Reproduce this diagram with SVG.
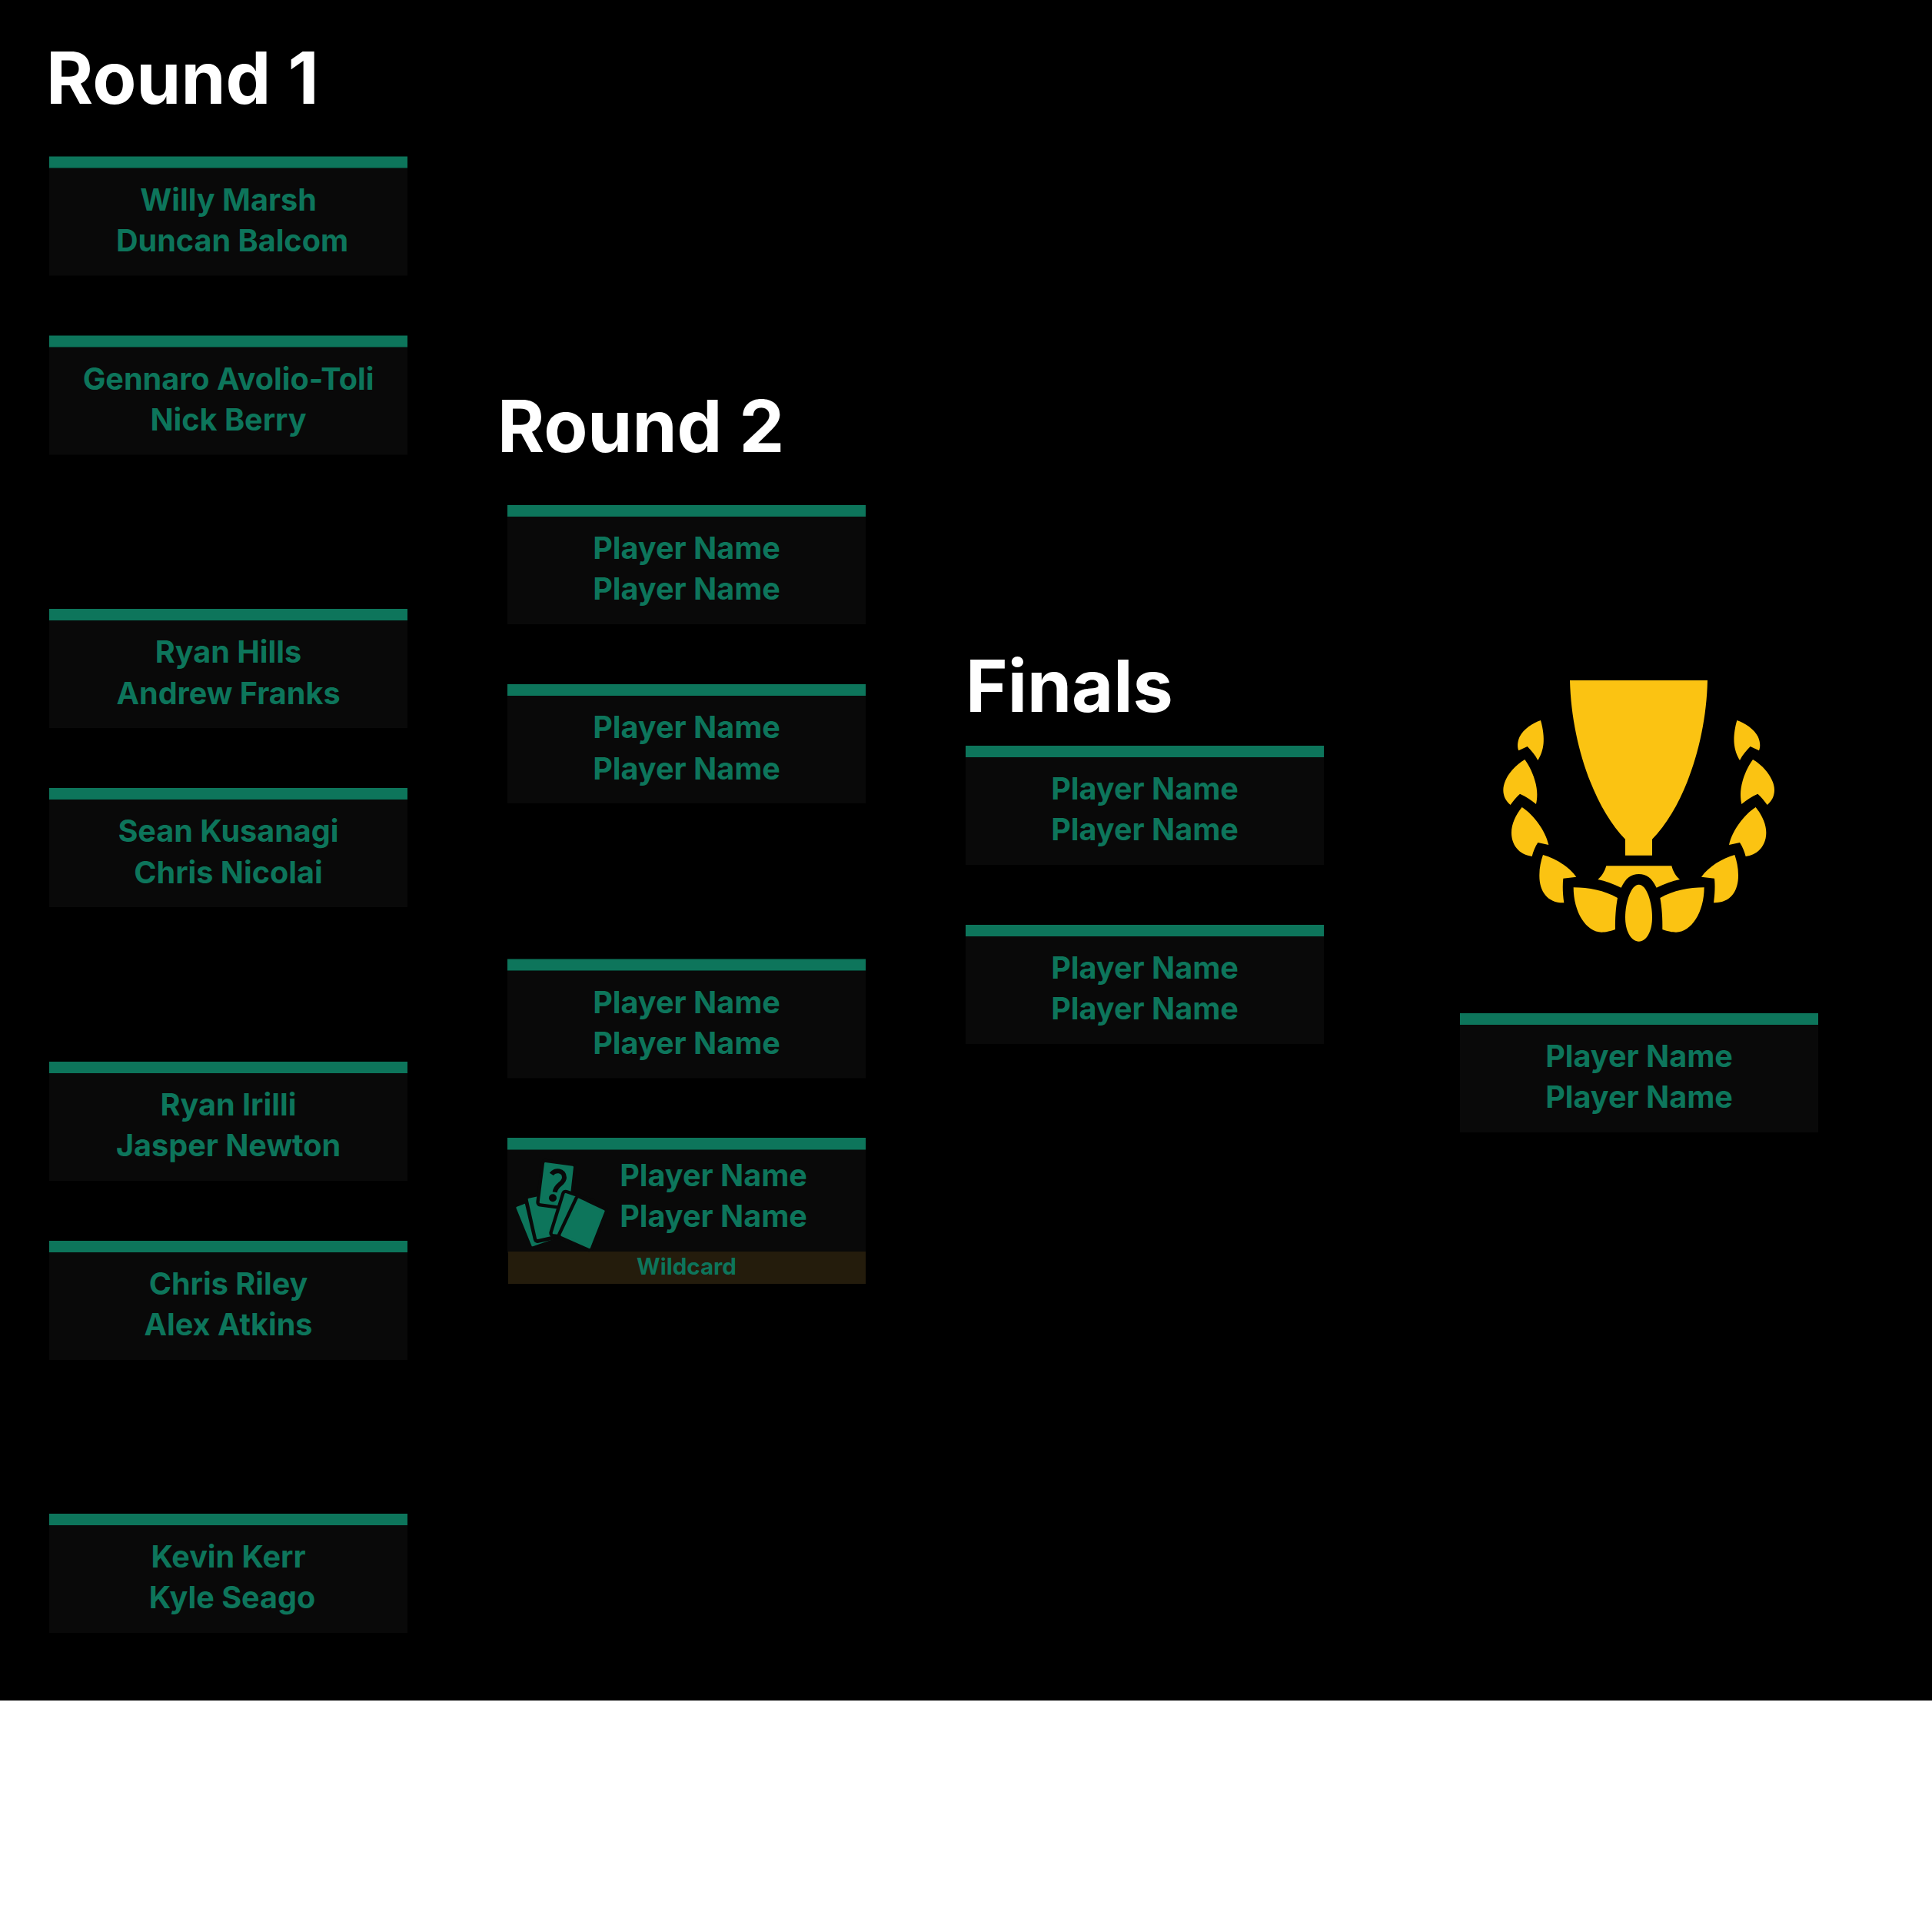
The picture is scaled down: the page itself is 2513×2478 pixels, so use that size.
<svg xmlns="http://www.w3.org/2000/svg" width="2513" height="2478" viewBox="0 0 2513 2478">
<style>
.body{fill:#090909}.bar{fill:#0d755b}.band{fill:#241c0c}
.name{font-family:Inter,"Noto Sans",sans-serif;font-weight:700;font-size:39.600px;fill:#0d755b;text-anchor:middle}
.title{font-family:Inter,"Noto Sans",sans-serif;font-weight:700;font-size:93.300px;fill:#fff}
.wild{font-family:Inter,"Noto Sans",sans-serif;font-weight:700;font-size:29.500px;fill:#0d755b;text-anchor:middle}
.gold{fill:#fbc312}
.card{fill:#0d755b;stroke:#0d755b;stroke-width:8;stroke-linejoin:round}
.gap{fill:#090909;stroke:#090909;stroke-width:34;stroke-linejoin:round}
</style>
<defs>
<g id="box"><rect class="body" x="0" y="15" width="466" height="140"/><rect class="bar" x="0" y="0" width="466" height="15"/></g>
<g id="leaves">
<path d="M500 913C560 913 620 925 672 954C665 990 662 1035 663 1077C640 1085 625 1088 610 1088C550 1088 500 1010 500 913Z"/>
<path d="M381 786C430 800 480 830 511 872L460 878C457 905 458 940 463 973C400 975 366 930 367 865C367 835 373 810 381 786Z"/>
<path d="M299 600C345 630 390 690 403 747L361 738C350 755 343 772 338 792C285 785 258 745 258 700C258 665 275 630 299 600Z"/>
<path d="M310 414C340 455 358 510 358 550C358 565 357 575 354 588C335 572 315 558 291 548C277 560 265 575 254 591C235 575 226 555 226 533C226 490 265 440 310 414Z"/>
<path d="M372 261C382 295 385 330 383 350C381 375 372 400 361 417C350 395 335 378 320 363L286 379C280 365 281 345 290 325C305 295 340 272 372 261Z"/>
</g>
</defs>
<rect x="0" y="0" width="2513" height="2478" fill="#fff"/>
<rect x="0" y="0" width="2513" height="2212" fill="#000"/>
<g id="titles">
<text class="title" x="60" y="134.500">Round 1</text>
<text class="title" x="647" y="587.500">Round 2</text>
<text class="title" x="1256" y="925.500">Finals</text>
</g>
<g id="round-1">
<g id="r1-m1" transform="translate(64 203.500)"><use href="#box"/><text class="name" x="233" y="70">Willy Marsh</text><text class="name" x="238" y="123">Duncan Balcom</text></g>
<g id="r1-m2" transform="translate(64 436.500)"><use href="#box"/><text class="name" x="233" y="70">Gennaro Avolio-Toli</text><text class="name" x="233" y="123">Nick Berry</text></g>
<g id="r1-m3" transform="translate(64 792)"><use href="#box"/><text class="name" x="233" y="70">Ryan Hills</text><text class="name" x="233" y="123.500">Andrew Franks</text></g>
<g id="r1-m4" transform="translate(64 1025)"><use href="#box"/><text class="name" x="233" y="70">Sean Kusanagi</text><text class="name" x="233" y="123.500">Chris Nicolai</text></g>
<g id="r1-m5" transform="translate(64 1381)"><use href="#box"/><text class="name" x="233" y="70">Ryan Irilli</text><text class="name" x="233" y="123">Jasper Newton</text></g>
<g id="r1-m6" transform="translate(64 1614)"><use href="#box"/><text class="name" x="233" y="70">Chris Riley</text><text class="name" x="233" y="123">Alex Atkins</text></g>
<g id="r1-m7" transform="translate(64 1969)"><use href="#box"/><text class="name" x="233" y="70">Kevin Kerr</text><text class="name" x="238" y="123">Kyle Seago</text></g>
</g>
<g id="round-2">
<g id="r2-m1" transform="translate(660 657)"><use href="#box"/><text class="name" x="233" y="70">Player Name</text><text class="name" x="233" y="123">Player Name</text></g>
<g id="r2-m2" transform="translate(660 890)"><use href="#box"/><text class="name" x="233" y="70">Player Name</text><text class="name" x="233" y="123.500">Player Name</text></g>
<g id="r2-m3" transform="translate(660 1247.500)"><use href="#box"/><text class="name" x="233" y="70">Player Name</text><text class="name" x="233" y="123">Player Name</text></g>
<g id="r2-m4" transform="translate(660 1480)"><rect class="body" x="0" y="15" width="466" height="135"/><rect class="band" x="1" y="148" width="465" height="42"/><rect class="bar" x="0" y="0" width="466" height="15.500"/>
<text class="name" x="268" y="63">Player Name</text><text class="name" x="268" y="116">Player Name</text><text class="wild" x="233" y="178">Wildcard</text>
<g id="wildcard-icon" transform="translate(0 10) scale(.33333)">
<polygon class="card" points="38,243 150,200 212,350 98,390"/>
<polygon class="gap" points="82,210 195,185 228,340 118,364"/>
<polygon class="card" points="84,210 190,188 224,338 118,362"/>
<polygon class="gap" points="148,70 254,84 237,236 129,222"/>
<polygon class="card" points="148,70 254,84 237,236 129,222"/>
<path d="M172 112C185 92 222 96 222 125C222 150 190 150 185 182" fill="none" stroke="#090909" stroke-width="18"/>
<circle cx="177" cy="205" r="15" fill="#090909"/>
<polygon class="gap" points="227,190 330,225 280,350 180,342"/>
<polygon class="card" points="227,190 330,225 280,350 180,342"/>
<polygon class="gap" points="278,210 376,256 320,398 212,350"/>
<polygon class="card" points="278,210 376,256 320,398 212,350"/>
</g></g>
</g>
<g id="finals">
<g id="f-m1" transform="translate(1256 970)"><use href="#box"/><text class="name" x="233" y="70">Player Name</text><text class="name" x="233" y="123">Player Name</text></g>
<g id="f-m2" transform="translate(1256 1203)"><use href="#box"/><text class="name" x="233" y="70">Player Name</text><text class="name" x="233" y="123">Player Name</text></g>
</g>
<g id="winner" transform="translate(1899 1318)"><use href="#box"/><text class="name" x="233" y="70">Player Name</text><text class="name" x="233" y="123">Player Name</text></g>
<g id="trophy" class="gold" transform="translate(1880 850) scale(.33333)">
<path d="M486 105H1023C1018 350 930 600 807 725V788H702V725C580 600 492 350 486 105Z"/>
<path d="M628 829H883C888 850 900 870 915 882C885 888 855 900 824 914C805 875 785 861 755 861C725 861 705 875 686 914C655 900 625 888 595 882C610 870 622 850 628 829Z"/>
<path d="M755 902C785 902 807 970 807 1030C807 1085 785 1124 755 1124C725 1124 702 1085 702 1030C702 970 725 902 755 902Z"/>
<use href="#leaves"/>
<use href="#leaves" transform="translate(1510 0) scale(-1 1)"/>
</g>
</svg>
